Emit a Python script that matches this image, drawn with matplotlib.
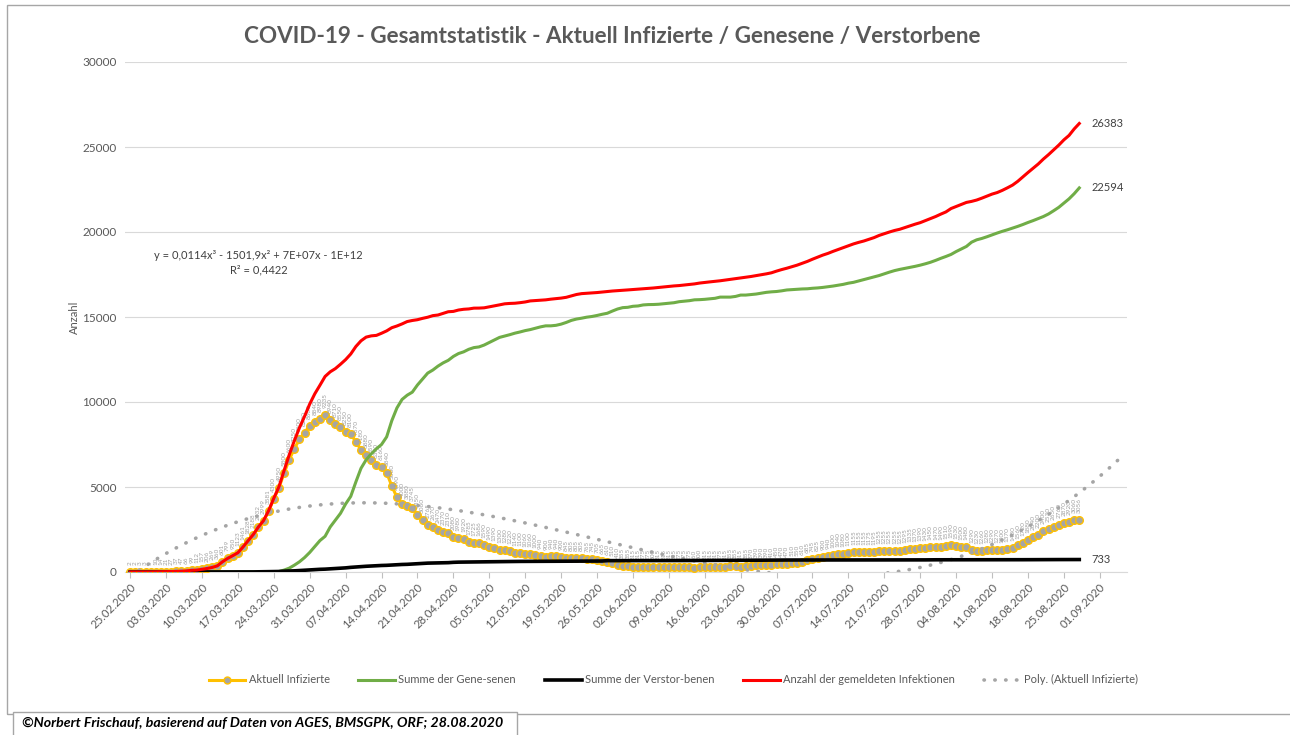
import numpy as np
import matplotlib
matplotlib.use("Agg")
import matplotlib.pyplot as plt
from matplotlib.patches import Rectangle
from matplotlib.lines import Line2D

plt.rcParams['font.family'] = ['Lato', 'DejaVu Sans']

# -----------------------------
# Data (one value per day, 25.02.2020 - 28.08.2020, rows = weeks)
# -----------------------------
infektionen = [
    2, 2, 3, 3, 5, 10, 14,
    21, 27, 37, 47, 66, 99, 112,
    157, 206, 270, 361, 602, 800, 959,
    1132, 1471, 1843, 2203, 2649, 3024, 3611,
    4337, 5010, 5961, 6883, 7718, 8486, 9158,
    9878, 10486, 10988, 11503, 11776, 11964, 12220,
    12493, 12823, 13265, 13599, 13817, 13890, 13918,
    14044, 14183, 14370, 14471, 14593, 14732, 14795,
    14841, 14920, 14987, 15080, 15116, 15212, 15309,
    15329, 15410, 15454, 15474, 15521, 15524, 15540,
    15596, 15649, 15714, 15775, 15798, 15810, 15843,
    15884, 15946, 15968, 15989, 16009, 16049, 16079,
    16112, 16158, 16240, 16324, 16375, 16395, 16416,
    16438, 16470, 16498, 16528, 16548, 16573, 16593,
    16615, 16635, 16657, 16677, 16707, 16737, 16767,
    16798, 16828, 16849, 16880, 16910, 16947, 16997,
    17033, 17066, 17098, 17131, 17172, 17213, 17253,
    17293, 17335, 17382, 17433, 17485, 17538, 17600,
    17700, 17790, 17870, 17960, 18050, 18160, 18270,
    18400, 18520, 18640, 18740, 18860, 18970, 19080,
    19190, 19300, 19390, 19470, 19570, 19670, 19800,
    19900, 20000, 20090, 20160, 20260, 20360, 20460,
    20550, 20670, 20790, 20910, 21050, 21180, 21380,
    21500, 21620, 21740, 21800, 21880, 21990, 22110,
    22230, 22320, 22450, 22600, 22760, 22980, 23240,
    23500, 23750, 24000, 24290, 24550, 24830, 25110,
    25420, 25680, 26060, 26383,
]

genesene = [
    0, 0, 0, 0, 0, 0, 0,
    0, 0, 0, 0, 0, 0, 0,
    0, 0, 0, 0, 0, 0, 6,
    6, 6, 9, 9, 9, 9, 9,
    9, 30, 112, 225, 400, 600, 850,
    1150, 1500, 1850, 2100, 2650, 3050, 3450,
    4000, 4450, 5300, 6100, 6600, 6950, 7250,
    7500, 7950, 8900, 9650, 10150, 10400, 10580,
    11000, 11350, 11700, 11880, 12110, 12300, 12450,
    12680, 12850, 12950, 13100, 13200, 13240, 13350,
    13500, 13650, 13800, 13880, 13960, 14050, 14120,
    14200, 14260, 14340, 14420, 14480, 14480, 14510,
    14580, 14680, 14800, 14880, 14930, 14990, 15030,
    15090, 15160, 15220, 15350, 15470, 15550, 15570,
    15630, 15650, 15710, 15730, 15735, 15750, 15780,
    15810, 15840, 15900, 15930, 15960, 16010, 16020,
    16040, 16070, 16100, 16170, 16170, 16170, 16210,
    16290, 16290, 16320, 16350, 16400, 16450, 16480,
    16500, 16540, 16590, 16610, 16630, 16650, 16660,
    16690, 16710, 16740, 16780, 16820, 16870, 16920,
    16990, 17040, 17120, 17200, 17280, 17360, 17440,
    17540, 17640, 17730, 17800, 17860, 17920, 17980,
    18050, 18130, 18220, 18330, 18450, 18560, 18680,
    18850, 19000, 19150, 19400, 19540, 19620, 19720,
    19830, 19940, 20040, 20130, 20230, 20330, 20440,
    20560, 20670, 20790, 20910, 21060, 21250, 21450,
    21700, 21950, 22250, 22594,
]

verstorbene = [
    0, 0, 0, 0, 0, 0, 0,
    0, 0, 0, 0, 0, 0, 0,
    0, 0, 1, 1, 1, 1, 3,
    3, 4, 6, 6, 8, 16, 21,
    28, 30, 49, 58, 68, 86, 108,
    128, 146, 158, 168, 186, 204, 220,
    243, 273, 295, 319, 337, 350, 368,
    384, 393, 410, 431, 443, 452, 470,
    491, 510, 522, 530, 536, 542, 549,
    569, 580, 584, 589, 596, 598, 600,
    606, 609, 614, 615, 618, 620, 623,
    624, 626, 628, 629, 629, 629, 629,
    632, 633, 635, 639, 640, 640, 641,
    643, 645, 668, 668, 668, 668, 668,
    670, 670, 672, 672, 672, 672, 672,
    673, 673, 674, 675, 675, 677, 677,
    678, 681, 683, 686, 687, 688, 688,
    688, 690, 692, 693, 695, 698, 702,
    703, 704, 704, 705, 705, 705, 705,
    706, 706, 706, 706, 708, 708, 708,
    709, 710, 710, 711, 711, 711, 711,
    711, 711, 711, 711, 712, 713, 713,
    713, 713, 718, 718, 718, 718, 718,
    719, 719, 719, 719, 719, 720, 721,
    721, 722, 722, 723, 723, 723, 723,
    725, 725, 727, 730, 730, 731, 731,
    732, 732, 733, 733,
]

aktuell_infizierte = [
    2, 2, 3, 3, 5, 10, 14,
    21, 27, 37, 47, 66, 99, 112,
    157, 206, 269, 360, 601, 799, 950,
    1123, 1461, 1828, 2188, 2632, 2999, 3581,
    4300, 4950, 5800, 6600, 7250, 7800, 8200,
    8600, 8840, 8980, 9235, 8940, 8710, 8550,
    8250, 8100, 7670, 7180, 6880, 6590, 6300,
    6160, 5840, 5060, 4390, 4000, 3880, 3745,
    3350, 3060, 2765, 2670, 2470, 2370, 2310,
    2080, 1980, 1920, 1785, 1725, 1686, 1590,
    1490, 1390, 1300, 1280, 1220, 1140, 1100,
    1060, 1060, 1000, 940, 900, 940, 940,
    900, 845, 805, 805, 805, 765, 745,
    705, 665, 610, 510, 410, 355, 355,
    315, 315, 275, 275, 300, 315, 315,
    315, 315, 275, 275, 275, 260, 300,
    315, 315, 315, 275, 315, 355, 355,
    315, 355, 370, 390, 390, 390, 410,
    450, 470, 470, 510, 550, 610, 685,
    745, 825, 900, 940, 1000, 1040, 1080,
    1100, 1155, 1155, 1155, 1175, 1195, 1255,
    1255, 1255, 1255, 1255, 1295, 1335, 1370,
    1390, 1430, 1450, 1470, 1490, 1510, 1590,
    1530, 1500, 1480, 1290, 1230, 1260, 1280,
    1290, 1270, 1300, 1370, 1430, 1560, 1720,
    1880, 2040, 2200, 2400, 2530, 2650, 2760,
    2870, 2920, 3060, 3056,
]

week_labels = [
    "25.02.2020", "03.03.2020", "10.03.2020", "17.03.2020", "24.03.2020",
    "31.03.2020", "07.04.2020", "14.04.2020", "21.04.2020", "28.04.2020",
    "05.05.2020", "12.05.2020", "19.05.2020", "26.05.2020", "02.06.2020",
    "09.06.2020", "16.06.2020", "23.06.2020", "30.06.2020", "07.07.2020",
    "14.07.2020", "21.07.2020", "28.07.2020", "04.08.2020", "11.08.2020",
    "18.08.2020", "25.08.2020", "01.09.2020",
]

# -----------------------------
# Colours
# -----------------------------
YELLOW = "#FFC000"
GREY_DOT = "#A5A5A5"
GREEN = "#70AD47"
RED = "#FF0000"
TEXT = "#595959"
DOTTED = (0, (0.1, 2.9))

days = np.arange(len(aktuell_infizierte))

# cubic trend line (Excel "Poly." trend, 7 days forward)
coef = np.polyfit(days, aktuell_infizierte, 3)
trend_x = np.linspace(0, len(days) + 7, 400)
trend_y = np.polyval(coef, trend_x)

# -----------------------------
# Figure
# -----------------------------
fig = plt.figure(figsize=(12.9, 7.35), dpi=100)
ax = fig.add_axes([125 / 1290, 163 / 735, 1002 / 1290, 510 / 735])

ax.plot(days, aktuell_infizierte, color=YELLOW, lw=2.2, marker="o",
        markersize=5.5, markerfacecolor=GREY_DOT, markeredgecolor=YELLOW,
        markeredgewidth=1.0, zorder=3)
ax.plot(trend_x, trend_y, color=GREY_DOT, lw=2.6, linestyle=DOTTED,
        dash_capstyle="round", zorder=4)
ax.plot(days, genesene, color=GREEN, lw=2.2, zorder=5)
ax.plot(days, verstorbene, color="black", lw=2.6, zorder=6)
ax.plot(days, infektionen, color=RED, lw=2.2, zorder=7)

# data labels of the active cases
for d, v in zip(days, aktuell_infizierte):
    ax.annotate(str(v), (d, v), xytext=(0, 5), textcoords="offset points",
                rotation=90, ha="center", va="bottom", fontsize=4.6,
                color="#A0A0A0", zorder=3.5)

# end values
for series in (infektionen, genesene, verstorbene):
    ax.annotate(str(series[-1]), (days[-1], series[-1]), xytext=(9, 0),
                textcoords="offset points", ha="left", va="center",
                fontsize=8, color="#404040")

ax.text(25, 18200, "y = 0,0114x³ - 1501,9x² + 7E+07x - 1E+12\nR² = 0,4422",
        ha="center", va="center", fontsize=8, color="#404040",
        linespacing=1.45, multialignment="center")

# axes formatting
ax.set_xlim(-1, 194.3)
ax.set_ylim(0, 30000)
ax.set_yticks(range(0, 30001, 5000))
ax.set_xticks(np.arange(0, 7 * len(week_labels), 7))
ax.set_xticklabels(week_labels, rotation=45, ha="right", rotation_mode="anchor")
ax.tick_params(axis="x", colors="#BFBFBF", length=4, width=0.8, labelsize=8.2,
               labelcolor=TEXT, pad=3)
ax.tick_params(axis="y", length=0, labelsize=8.5, labelcolor=TEXT, pad=6)
ax.grid(axis="y", color="#D9D9D9", lw=0.8)
ax.set_axisbelow(True)
for side in ("top", "right", "left"):
    ax.spines[side].set_visible(False)
ax.spines["bottom"].set_color("#D9D9D9")
ax.set_ylabel("Anzahl", fontsize=8, color=TEXT, labelpad=2)

fig.text(0.4744, 0.951, "COVID-19 - Gesamtstatistik - Aktuell Infizierte / Genesene / Verstorbene",
         ha="center", va="center", fontsize=16.2, fontweight="bold", color=TEXT)

# legend
handles = [
    Line2D([], [], color=YELLOW, lw=2.2, marker="o", markersize=5,
           markerfacecolor=GREY_DOT, markeredgecolor=YELLOW),
    Line2D([], [], color=GREEN, lw=2.2),
    Line2D([], [], color="black", lw=2.6),
    Line2D([], [], color=RED, lw=2.2),
    Line2D([], [], color=GREY_DOT, lw=2.6, linestyle=DOTTED,
           dash_capstyle="round"),
]
labels = ["Aktuell Infizierte", "Summe der Gene-senen", "Summe der Verstor-benen",
          "Anzahl der gemeldeten Infektionen", "Poly. (Aktuell Infizierte)"]
fig.legend(handles, labels, loc="center", bbox_to_anchor=(0.522, 0.075), ncol=5,
           frameon=False, fontsize=8, labelcolor=TEXT, handlelength=3.3,
           handletextpad=0.3, columnspacing=2.6)

# chart border and footer box
fig.patches.append(Rectangle((7 / 1290, 21 / 735), 1.1, 709 / 735,
                             transform=fig.transFigure, fill=False,
                             edgecolor="#A6A6A6", lw=1.0, zorder=0))
fig.patches.append(Rectangle((13 / 1290, -0.02), 504 / 1290, 23 / 735 + 0.02,
                             transform=fig.transFigure, facecolor="white",
                             edgecolor="#A6A6A6", lw=1.0, zorder=1))
fig.text(22 / 1290, 12 / 735, "©Norbert Frischauf, basierend auf Daten von AGES, BMSGPK, ORF; 28.08.2020",
         ha="left", va="center", fontsize=10.2, fontweight="bold",
         fontstyle="italic", color="black", zorder=2)

fig.savefig("out.png", dpi=100)
plt.close(fig)
